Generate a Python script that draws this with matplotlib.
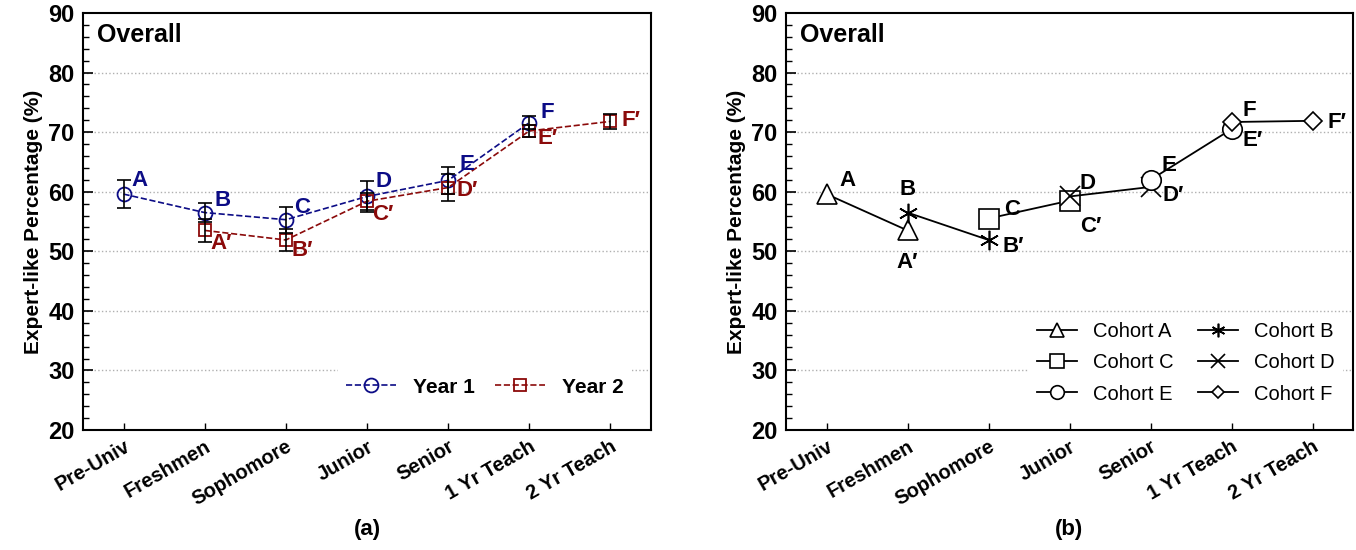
import matplotlib
matplotlib.use("Agg")
import matplotlib.pyplot as plt
from matplotlib.ticker import MultipleLocator

plt.rcParams['font.family'] = ['Liberation Sans', 'DejaVu Sans']

# categories on the x axis
stages = ["Pre-Univ", "Freshmen", "Sophomore", "Junior", "Senior", "1 Yr Teach", "2 Yr Teach"]

# panel (a): year 1 (stages 0-5) and year 2 (stages 1-6)
year1 = [59.6, 56.5, 55.3, 59.2, 61.9, 71.6]
year1_err = [2.3, 1.6, 2.2, 2.6, 2.2, 1.1]
year1_lab = ["A", "B", "C", "D", "E", "F"]
year2 = [53.5, 51.9, 58.4, 60.7, 70.2, 71.8]
year2_err = [2.0, 1.8, 1.4, 2.2, 1.0, 1.3]
year2_lab = ["A\u2032", "B\u2032", "C\u2032", "D\u2032", "E\u2032", "F\u2032"]

# panel (b): each cohort measured at two consecutive stages
cohorts = ["Cohort A", "Cohort B", "Cohort C", "Cohort D", "Cohort E", "Cohort F"]
cohort_first = [59.6, 56.5, 55.5, 59.2, 62.0, 71.7]
cohort_second = [53.5, 51.9, 58.5, 60.8, 70.5, 71.9]
cohort_markers = ['^', (6, 2, 0), 's', 'x', 'o', 'D']

navy = '#0c0c86'
darkred = '#8b0a0a'

fig = plt.figure(figsize=(13.56, 5.5), dpi=100)
ax1 = fig.add_axes([83/1356, 1-430/550, 568/1356, 417/550])
ax2 = fig.add_axes([786/1356, 1-430/550, 567/1356, 417/550])

for ax in (ax1, ax2):
    ax.set_xlim(-0.5, 6.5)
    ax.set_ylim(20, 90)
    ax.set_xticks(range(len(stages)))
    ax.set_xticklabels(stages, rotation=30, ha='right', rotation_mode='anchor',
                       fontsize=14.5, fontweight='bold')
    ax.yaxis.set_major_locator(MultipleLocator(10))
    ax.yaxis.set_minor_locator(MultipleLocator(2))
    ax.tick_params(axis='both', which='both', direction='in', top=False, right=False)
    ax.tick_params(axis='y', which='major', length=7, width=1.2, labelsize=17, pad=6)
    ax.tick_params(axis='y', which='minor', length=4, width=1)
    ax.tick_params(axis='x', length=5, width=1, pad=5)
    for lbl in ax.get_yticklabels():
        lbl.set_fontweight('bold')
    for s in ax.spines.values():
        s.set_linewidth(1.5)
    for v in range(30, 90, 10):
        ax.axhline(v, color='#b0b0b0', linestyle=':', linewidth=1, zorder=0)
    ax.set_ylabel("Expert-like Percentage (%)", fontsize=15, fontweight='bold', labelpad=4)
    ax.text(0.025, 0.975, "Overall", transform=ax.transAxes, fontsize=18,
            fontweight='bold', va='top', ha='left')

# ---- panel (a)
x1 = list(range(0, 6))
x2 = list(range(1, 7))
ax1.plot(x1, year1, '--', color=navy, lw=1.2, marker='o', ms=10, mfc='none',
         mec=navy, mew=1.3, label="Year 1", zorder=3)
ax1.errorbar(x1, year1, yerr=year1_err, fmt='none', ecolor='black', elinewidth=1.2,
             capsize=5, capthick=1.2, zorder=4)
ax1.plot(x2, year2, '--', color=darkred, lw=1.2, marker='s', ms=9, mfc='none',
         mec=darkred, mew=1.3, label="Year 2", zorder=3)
ax1.errorbar(x2, year2, yerr=year2_err, fmt='none', ecolor='black', elinewidth=1.2,
             capsize=5, capthick=1.2, zorder=4)

off1 = [(6, 2), (7, 1), (6, 1), (6, 3), (8, 4), (8, 0)]
off2 = [(4, -17), (4, -15), (4, -17), (6, -10), (6, -13), (8, -7)]
for x, y, t, o in zip(x1, year1, year1_lab, off1):
    ax1.annotate(t, (x, y), xytext=o, textcoords='offset points', color=navy,
                 fontsize=16, fontweight='bold', ha='left', va='bottom')
for x, y, t, o in zip(x2, year2, year2_lab, off2):
    ax1.annotate(t, (x, y), xytext=o, textcoords='offset points', color=darkred,
                 fontsize=16, fontweight='bold', ha='left', va='bottom')

leg1 = ax1.legend(loc='lower right', bbox_to_anchor=(0.985, 0.035), ncol=2, frameon=True,
                  prop={'weight': 'bold', 'size': 15}, handlelength=2.4,
                  columnspacing=1.0, fancybox=False)
leg1.get_frame().set_edgecolor('none')
leg1.get_frame().set_facecolor('white')
leg1.get_frame().set_alpha(1)

# ---- panel (b)
handles = []
for i, (name, m) in enumerate(zip(cohorts, cohort_markers)):
    filled = m in ('x', (6, 2, 0))
    h, = ax2.plot([i, i + 1], [cohort_first[i], cohort_second[i]], '-', color='black', lw=1.3,
                  marker=m, ms=14 if m != 'D' else 9, mfc='black' if filled else 'white',
                  mec='black', mew=1.2, label=name, zorder=3)
    handles.append(h)

lab_first = ["A", "B", "C", "D", "E", "F"]
lab_second = ["A\u2032", "B\u2032", "C\u2032", "D\u2032", "E\u2032", "F\u2032"]
offa = [((9, 2), 'left'), ((0, 9), 'center'), ((11, -1), 'left'), ((7, 2), 'left'),
        ((8, 3), 'left'), ((8, 1), 'left')]
offb = [((0, -31), 'center'), ((10, -12), 'left'), ((8, -26), 'left'), ((9, -14), 'left'),
        ((8, -16), 'left'), ((11, -9), 'left')]
for i in range(len(cohorts)):
    o, h = offa[i]
    ax2.annotate(lab_first[i], (i, cohort_first[i]), xytext=o, textcoords='offset points',
                 fontsize=16, fontweight='bold', ha=h, va='bottom')
    o, h = offb[i]
    ax2.annotate(lab_second[i], (i + 1, cohort_second[i]), xytext=o, textcoords='offset points',
                 fontsize=16, fontweight='bold', ha=h, va='bottom')

# row-wise legend order: A B / C D / E F
order = [0, 2, 4, 1, 3, 5]
leg2 = ax2.legend([handles[k] for k in order], [cohorts[k] for k in order],
                  loc='lower right', bbox_to_anchor=(1.0, 0.02), ncol=2, frameon=True,
                  prop={'size': 14.5}, handlelength=2.0, columnspacing=1.2,
                  labelspacing=0.6, fancybox=False, markerscale=0.7)
leg2.get_frame().set_edgecolor('none')
leg2.get_frame().set_facecolor('white')
leg2.get_frame().set_alpha(1)

fig.text((83 + 568/2)/1356, 1-530/550, "(a)", ha='center', va='center',
         fontsize=16, fontweight='bold')
fig.text((786 + 567/2)/1356, 1-530/550, "(b)", ha='center', va='center',
         fontsize=16, fontweight='bold')

fig.savefig("out.png", dpi=100)
